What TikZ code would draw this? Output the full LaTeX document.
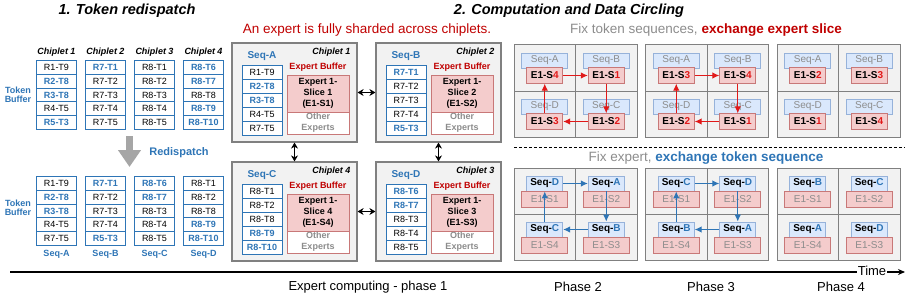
\documentclass[tikz,border=0pt]{standalone}
\usepackage{fontspec}
\setmainfont{Liberation Sans}
\usetikzlibrary{arrows.meta, positioning, calc}

\definecolor{tokblue}{RGB}{46,117,182}
\definecolor{exred}{RGB}{192,0,0}
\definecolor{arrred}{RGB}{225,25,25}
\definecolor{chipgray}{RGB}{242,242,242}
\definecolor{edgegray}{RGB}{128,128,128}
\definecolor{slicepink}{RGB}{244,204,204}
\definecolor{sliceedge}{RGB}{200,120,120}
\definecolor{seqblue}{RGB}{218,232,252}
\definecolor{seqedge}{RGB}{150,178,218}
\definecolor{fadegray}{RGB}{140,140,140}
\definecolor{dispgray}{RGB}{166,166,166}

\newcommand{\setfs}[1]{\fontsize{#1}{#1}\selectfont}

\begin{document}
\begin{tikzpicture}[x=1pt, y=-1pt,
  title/.style={font=\setfs{14.5}\bfseries\itshape},
  note/.style={font=\setfs{13.5}},
  phase/.style={font=\setfs{13}},
  chiphead/.style={font=\setfs{9}\bfseries\itshape},
  tok/.style={draw=tokblue, line width=1pt, fill=white, minimum width=40pt, minimum height=14pt, inner sep=0pt, font=\setfs{9}},
  reg/.style={},
  hi/.style={text=tokblue, font=\setfs{9}\bfseries},
  seqlabel/.style={text=tokblue, font=\setfs{9}\bfseries, align=center},
  chip/.style={draw=edgegray, line width=1.2pt, fill=chipgray, minimum width=125pt, minimum height=99pt, inner sep=0pt},
  buftitle/.style={text=exred, font=\setfs{9}\bfseries},
  slice/.style={draw=sliceedge, line width=0.8pt, fill=slicepink, minimum width=62pt, minimum height=37pt, inner sep=0pt, align=center, font=\fontsize{9}{11}\selectfont\bfseries},
  others/.style={draw=sliceedge, line width=0.8pt, fill=white, minimum width=62pt, minimum height=22pt, inner sep=0pt, align=center, text=fadegray, font=\fontsize{9}{11}\selectfont\bfseries},
  link/.style={line width=1.5pt, {Stealth[length=6pt,width=7pt]}-{Stealth[length=6pt,width=7pt]}},
  cell/.style={draw=edgegray, line width=1pt, fill=chipgray, minimum width=61.5pt, minimum height=46pt, inner sep=0pt},
  seqbox/.style={draw=seqedge, line width=0.8pt, fill=seqblue, minimum height=15pt, inner sep=0pt, font=\setfs{10}},
  slicebox/.style={draw=sliceedge, line width=0.8pt, fill=slicepink, minimum height=15.5pt, inner sep=0pt, font=\setfs{10}},
  redarr/.style={arrred, line width=1.1pt, -{Latex[length=7pt,width=6.5pt]}},
  bluearr/.style={tokblue, line width=1.1pt, -{Latex[length=7pt,width=6.5pt]}}
]
  \useasboundingbox (0,0) rectangle (917,305);

  % Token redispatch
  \node[title] (title1) at (127,11) {1. Token redispatch};
  \foreach \c in {1,...,4}
    \node[chiphead] (head\c) at ({56.5+49*(\c-1)},52) {Chiplet \c};
  \node[seqlabel] (buftop) at (18,95) {Token\\Buffer};
  \foreach \c/\toks in {1/{R1-T9/reg,R2-T8/hi,R3-T8/hi,R4-T5/reg,R5-T3/hi},
      2/{R7-T1/hi,R7-T2/reg,R7-T3/reg,R7-T4/reg,R7-T5/reg},
      3/{R8-T1/reg,R8-T2/reg,R8-T3/reg,R8-T4/reg,R8-T5/reg},
      4/{R8-T6/hi,R8-T7/hi,R8-T8/reg,R8-T9/hi,R8-T10/hi}}
    \foreach \txt/\sty [count=\r] in \toks
      \node[tok, \sty] (old\c-\r) at ({56.5+49*(\c-1)},{54.2+13.6*\r}) {\txt};

  % Redispatch arrow
  \coordinate (dispfrom) at (129.5,136);
  \coordinate (dispto) at (129.5,167);
  \draw[dispgray, line width=7pt, -{Triangle[length=17pt,width=22pt]}] (dispfrom) -- (dispto);
  \node[seqlabel, font=\setfs{11}\bfseries] (disp) at (179,153) {Redispatch};

  \node[seqlabel] (bufbot) at (18,208) {Token\\Buffer};
  \foreach \c/\s/\toks in {1/A/{R1-T9/reg,R2-T8/hi,R3-T8/hi,R4-T5/reg,R7-T5/reg},
      2/B/{R7-T1/hi,R7-T2/reg,R7-T3/reg,R7-T4/reg,R5-T3/hi},
      3/C/{R8-T6/hi,R8-T7/hi,R8-T3/reg,R8-T4/reg,R8-T5/reg},
      4/D/{R8-T1/reg,R8-T2/reg,R8-T8/reg,R8-T9/hi,R8-T10/hi}} {
    \foreach \txt/\sty [count=\r] in \toks
      \node[tok, \sty] (new\c-\r) at ({56.5+49*(\c-1)},{170.2+13.6*\r}) {\txt};
    \node[seqlabel] (seq\s) at ({56.5+49*(\c-1)},254) {Seq-\s};
  }

  % Expert computing - phase 1
  \node[title] (title2) at (569,11) {2. Computation and Data Circling};
  \node[note, text=exred] (shard) at (367,30) {An expert is fully sharded across chiplets.};
  \foreach \n/\bx/\by/\s/\toks in {
      1/232/43/A/{R1-T9/reg,R2-T8/hi,R3-T8/hi,R4-T5/reg,R7-T5/reg},
      2/376/43/B/{R7-T1/hi,R7-T2/reg,R7-T3/reg,R7-T4/reg,R5-T3/hi},
      4/232/162/C/{R8-T1/reg,R8-T2/reg,R8-T8/reg,R8-T9/hi,R8-T10/hi},
      3/376/162/D/{R8-T6/hi,R8-T7/hi,R8-T3/reg,R8-T4/reg,R8-T5/reg}} {
    \node[chip] (chip\n) at ({\bx+62.5},{\by+49.5}) {};
    \node[seqlabel, font=\setfs{10}\bfseries] (cseq\n) at ({\bx+30},{\by+13}) {Seq-\s};
    \node[chiphead, anchor=east] (cname\n) at ({\bx+122},{\by+9}) {Chiplet \n};
    \node[buftitle] (cbuf\n) at ({\bx+86},{\by+24}) {Expert Buffer};
    \node[slice] (slice\n) at ({\bx+86},{\by+50.5}) {Expert 1-\\Slice \n\\(E1-S\n)};
    \node[others] (other\n) at ({\bx+86},{\by+80}) {Other\\Experts};
    \foreach \txt/\sty [count=\r] in \toks
      \node[tok, \sty] (ctok\n-\r) at ({\bx+30},{\by+15+14*\r}) {\txt};
  }
  \draw[link] (chip1) -- (chip2);
  \draw[link] (chip1) -- (chip4);
  \draw[link] (chip2) -- (chip3);
  \draw[link] (chip4) -- (chip3);

  % Fix token sequences
  \node[note] (fixtok) at (706,30) {\textcolor{fadegray}{Fix token sequences,} \textcolor{exred}{\bfseries exchange expert slice}};
  \foreach \p/\gx/\cells in {2/514/{A/4,B/1,D/3,C/2}, 3/645.5/{A/3,B/4,D/2,C/1}, 4/777/{A/2,B/3,D/1,C/4}}
    \foreach \s/\k [count=\i] in \cells {
      \pgfmathsetmacro{\cx}{\gx+30.75+61.5*mod(\i-1,2)}
      \pgfmathsetmacro{\cy}{45+46*int((\i-1)/2)}
      \node[cell] (tcell\p-\i) at (\cx,{\cy+23}) {};
      \node[seqbox, minimum width=46pt, text=fadegray] (tseq\p-\i) at (\cx,{\cy+15.5}) {Seq-\s};
      \node[slicebox, minimum width=36pt, font=\setfs{10}\bfseries] (tsl\p-\i) at (\cx,{\cy+30.5}) {E1-S\textcolor{arrred}{\k}};
    }

  \coordinate (sepl) at (514,147);
  \coordinate (sepr) at (905,147);
  \draw[line width=0.8pt, dash pattern=on 3pt off 2pt] (sepl) -- (sepr);

  % Fix expert
  \node[note] (fixexp) at (706,158) {\textcolor{fadegray}{Fix expert,} \textcolor{tokblue}{\bfseries exchange token sequence}};
  \foreach \p/\gx/\cells in {2/514/{D/1,A/2,C/4,B/3}, 3/645.5/{C/1,D/2,B/4,A/3}, 4/777/{B/1,C/2,A/4,D/3}}
    \foreach \s/\k [count=\i] in \cells {
      \pgfmathsetmacro{\cx}{\gx+30.75+61.5*mod(\i-1,2)}
      \pgfmathsetmacro{\cy}{168+46*int((\i-1)/2)}
      \node[cell] (bcell\p-\i) at (\cx,{\cy+23}) {};
      \node[seqbox, minimum width=36pt, font=\setfs{10}\bfseries] (bseq\p-\i) at (\cx,{\cy+15.5}) {Seq-\textcolor{tokblue}{\s}};
      \node[slicebox, minimum width=46pt, minimum height=16pt, text=fadegray] (bsl\p-\i) at (\cx,{\cy+31}) {E1-S\k};
    }

  % Circling arrows
  \foreach \p in {2,3} {
    \draw[redarr] (tsl\p-1) -- (tsl\p-2);
    \draw[redarr] (tsl\p-2) -- (tsl\p-4);
    \draw[redarr] (tsl\p-4) -- (tsl\p-3);
    \draw[redarr] (tsl\p-3) -- (tsl\p-1);
    \draw[bluearr] (bseq\p-1) -- (bseq\p-2);
    \draw[bluearr] (bseq\p-2) -- (bseq\p-4);
    \draw[bluearr] (bseq\p-4) -- (bseq\p-3);
    \draw[bluearr] (bseq\p-3) -- (bseq\p-1);
  }

  % Time axis
  \coordinate (tstart) at (10,272);
  \coordinate (tend) at (905,272);
  \draw[line width=1.2pt, -{Stealth[length=7pt,width=6pt]}] (tstart) -- (tend);
  \node[phase, fill=white, inner sep=1pt] (time) at (872,271) {Time};
  \node[phase] (ph1) at (368,287) {Expert computing - phase 1};
  \node[phase] (ph2) at (578,287) {Phase 2};
  \node[phase] (ph3) at (711,287) {Phase 3};
  \node[phase] (ph4) at (841,287) {Phase 4};
\end{tikzpicture}
\end{document}
